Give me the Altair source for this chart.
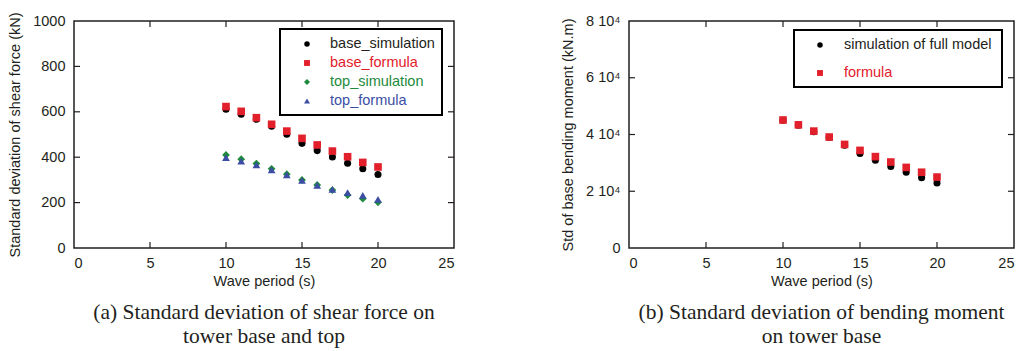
import altair as alt
import pandas as pd

# Wave periods (s)
periods = [10, 11, 12, 13, 14, 15, 16, 17, 18, 19, 20]

# (a) Shear force standard deviation (kN)
base_simulation = [611, 589, 567, 536, 501, 461, 429, 401, 373, 349, 324]
base_formula = [623, 602, 574, 545, 515, 483, 454, 427, 402, 377, 357]
top_simulation = [410, 391, 372, 349, 325, 300, 278, 255, 233, 217, 201]
top_formula = [398, 383, 366, 344, 322, 298, 276, 258, 244, 232, 214]

# (b) Base bending moment standard deviation (kN.m)
moment_simulation = [45000, 43300, 41000, 39000, 36200, 33300, 30900, 28700, 26700, 24800, 22900]
moment_formula = [45100, 43400, 41200, 39100, 36500, 34400, 32200, 30300, 28400, 26700, 25000]

x_ticks = [0, 5, 10, 15, 20, 25]
y_ticks_a = [0, 200, 400, 600, 800, 1000]
y_ticks_b = [0, 20000, 40000, 60000, 80000]

FONT = "Liberation Sans"
SERIF = "Liberation Serif"
INK = "#231f20"
RED = "#e2202b"
GREEN = "#1e8a3c"
BLUE = "#3b4ea3"
W_A, W_B, H = 380, 385, 227

series_a = [
    ("base_simulation", base_simulation, "black", "circle", 50),
    ("base_formula", base_formula, RED, "square", 58),
    ("top_simulation", top_simulation, GREEN, "diamond", 60),
    ("top_formula", top_formula, BLUE, "triangle-up", 60),
]
series_b = [
    ("simulation of full model", moment_simulation, "black", "circle", 50),
    ("formula", moment_formula, RED, "square", 58),
]


def panel(series, y_max, y_ticks, y_title, label_expr, width, caption, legend_box, legend_rows):
    xs = alt.Scale(domain=[0, 25], nice=False)
    ys = alt.Scale(domain=[0, y_max], nice=False)
    layers = []
    for name, vals, color, shape, size in series:
        df = pd.DataFrame({"period": periods, "value": vals})
        layers.append(
            alt.Chart(df).mark_point(filled=True, opacity=1, shape=shape, size=size, color=color)
            .encode(
                x=alt.X("period:Q", scale=xs,
                        axis=alt.Axis(values=x_ticks, title="Wave period (s)", ticks=False,
                                      labelPadding=8, titlePadding=5, domain=False, grid=False)),
                y=alt.Y("value:Q", scale=ys,
                        axis=alt.Axis(values=y_ticks, title=y_title, ticks=False, labelExpr=label_expr,
                                      labelPadding=9, titlePadding=10, domain=False, grid=False)),
            )
        )
    # inward tick marks on all four sides
    inner_x = pd.DataFrame({"t": x_ticks[1:-1]})
    inner_y = pd.DataFrame({"t": y_ticks[1:-1]})
    tick_style = dict(color=INK, strokeWidth=1.2)
    layers.append(alt.Chart(inner_x).mark_rule(**tick_style).encode(
        x=alt.X("t:Q", scale=xs), y=alt.value(H), y2=alt.value(H - 6)))
    layers.append(alt.Chart(inner_x).mark_rule(**tick_style).encode(
        x=alt.X("t:Q", scale=xs), y=alt.value(0), y2=alt.value(6)))
    layers.append(alt.Chart(inner_y).mark_rule(**tick_style).encode(
        y=alt.Y("t:Q", scale=ys), x=alt.value(0), x2=alt.value(6)))
    layers.append(alt.Chart(inner_y).mark_rule(**tick_style).encode(
        y=alt.Y("t:Q", scale=ys), x=alt.value(width), x2=alt.value(width - 6)))

    # legend box
    bx0, by0, bx1, by1 = legend_box
    box = pd.DataFrame({"k": [0]})
    layers.append(alt.Chart(box).mark_rect(fill="white", stroke="black", strokeWidth=2).encode(
        x=alt.value(bx0), x2=alt.value(bx1), y=alt.value(by0), y2=alt.value(by1)))
    sym_x, text_x, row_ys = legend_rows
    for (name, vals, color, shape, size), ry in zip(series, row_ys):
        entry = pd.DataFrame({"label": [name]})
        layers.append(alt.Chart(entry).mark_point(filled=True, opacity=1, shape=shape,
                                                  size=size * 0.6, color=color).encode(
            x=alt.value(sym_x), y=alt.value(ry)))
        layers.append(alt.Chart(entry).mark_text(align="left", baseline="middle", font=FONT,
                                                 fontSize=14.5, color=color if color != "black" else INK).encode(
            x=alt.value(text_x), y=alt.value(ry), text="label:N"))

    return alt.layer(*layers).properties(
        width=width, height=H,
        title=alt.TitleParams(caption, orient="bottom", anchor="middle", frame="group",
                              font=SERIF, fontSize=21.5, fontWeight="normal", color=INK,
                              lineHeight=24, offset=14),
    )


left = panel(series_a, 1000, y_ticks_a, "Standard deviation of shear force (kN)", "'' + datum.value",
             W_A, ["(a) Standard deviation of shear force on", "tower base and top"],
             (206, 8, 368, 94), (233, 256, [23, 42, 61, 80]))
right = panel(series_b, 80000, y_ticks_b, "Std of base bending moment (kN.m)",
              "datum.value == 0 ? '0' : (datum.value / 10000) + ' 10\u2074'",
              W_B, ["(b) Standard deviation of bending moment", "on tower base"],
              (165, 9, 373, 66), (191, 215, [24, 52]))

chart = alt.hconcat(left, right, spacing=175, bounds="flush").properties(
    padding={"left": 6, "top": 11, "right": 5, "bottom": 5}
).configure_view(stroke=INK, strokeWidth=1.5).configure_axis(
    labelFont=FONT, labelFontSize=14.5, labelColor=INK,
    titleFont=FONT, titleFontSize=14.5, titleColor=INK, titleFontWeight="normal",
)

chart.save("out.html", embed_options={"renderer": "svg", "actions": False})
